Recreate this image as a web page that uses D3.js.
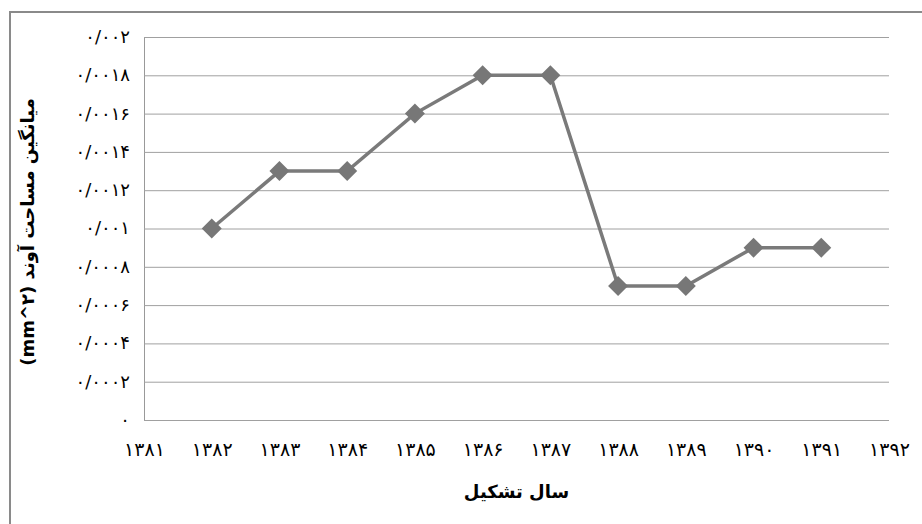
<!DOCTYPE html>
<html>
<head>
<meta charset="utf-8">
<script src="https://cdn.jsdelivr.net/npm/d3@7"></script>
<style>
body{margin:0;background:#fff;}
text{font-family:"DejaVu Sans",sans-serif;}
</style>
</head>
<body>
<svg id="chart" width="922" height="524"></svg>
<script>
// data
const years=[1382,1383,1384,1385,1386,1387,1388,1389,1390,1391];
const values=[0.001,0.0013,0.0013,0.0016,0.0018,0.0018,0.0007,0.0007,0.0009,0.0009];
const yTicks=[0,0.0002,0.0004,0.0006,0.0008,0.001,0.0012,0.0014,0.0016,0.0018,0.002];
const yTickLabels=["۰","۰/۰۰۰۲","۰/۰۰۰۴","۰/۰۰۰۶","۰/۰۰۰۸","۰/۰۰۱","۰/۰۰۱۲","۰/۰۰۱۴","۰/۰۰۱۶","۰/۰۰۱۸","۰/۰۰۲"];
const xTicks=[1381,1382,1383,1384,1385,1386,1387,1388,1389,1390,1391,1392];
const xTickLabels=["۱۳۸۱","۱۳۸۲","۱۳۸۳","۱۳۸۴","۱۳۸۵","۱۳۸۶","۱۳۸۷","۱۳۸۸","۱۳۸۹","۱۳۹۰","۱۳۹۱","۱۳۹۲"];

const svg=d3.select('#chart');
const plotL=144, plotR=889, plotT=37, plotB=420;

// outer frame (only left and top show in the picture)
svg.append('path').attr('d','M10,524V12H922').attr('fill','none')
  .attr('stroke','#8a8a8a').attr('stroke-width',2);

const x=d3.scaleLinear().domain([1381,1392]).range([plotL,plotR]);
const y=d3.scaleLinear().domain([0,0.002]).range([plotB,plotT]);

// gridlines + y labels
const yAxis=d3.axisLeft(y).tickValues(yTicks).tickSize(-(plotR-plotL)).tickPadding(14)
  .tickFormat((d,i)=>yTickLabels[i]);
const gy=svg.append('g').attr('transform','translate('+plotL+',0)').call(yAxis);
gy.select('.domain').attr('stroke','#999');
gy.selectAll('.tick line').attr('stroke','#a0a0a0');
gy.selectAll('.tick text').attr('font-size',18).attr('letter-spacing',2)
  .attr('fill','#000').attr('dy','0.3em');

// x labels, no axis line or ticks
const xAxis=d3.axisBottom(x).tickValues(xTicks).tickSize(0).tickPadding(23)
  .tickFormat((d,i)=>xTickLabels[i]);
const gx=svg.append('g').attr('transform','translate(0,'+plotB+')').call(xAxis);
gx.select('.domain').remove();
gx.selectAll('.tick text').attr('font-size',19).attr('letter-spacing',2).attr('fill','#000');

// the series
const pts=years.map((yr,i)=>[yr,values[i]]);
svg.append('path').datum(pts)
  .attr('d',d3.line().x(d=>x(d[0])).y(d=>y(d[1])))
  .attr('fill','none').attr('stroke','#7a7a7a').attr('stroke-width',3.5);

svg.selectAll('.mark').data(pts).join('path').attr('class','mark')
  .attr('transform',d=>'translate('+x(d[0])+','+y(d[1])+')')
  .attr('d','M0,-10L10,0L0,10L-10,0Z').attr('fill','#777');

// axis titles
svg.append('text').attr('x',(plotL+plotR)/2).attr('y',498)
  .attr('text-anchor','middle').attr('font-size',18).attr('font-weight','bold')
  .attr('direction','rtl').text('سال تشکیل');

svg.append('text').attr('transform','translate(34,232) rotate(-90)')
  .attr('text-anchor','middle').attr('font-size',18).attr('font-weight','bold')
  .attr('direction','rtl').text('میانگین مساحت آوند (mm^۲)');
</script>
</body>
</html>
